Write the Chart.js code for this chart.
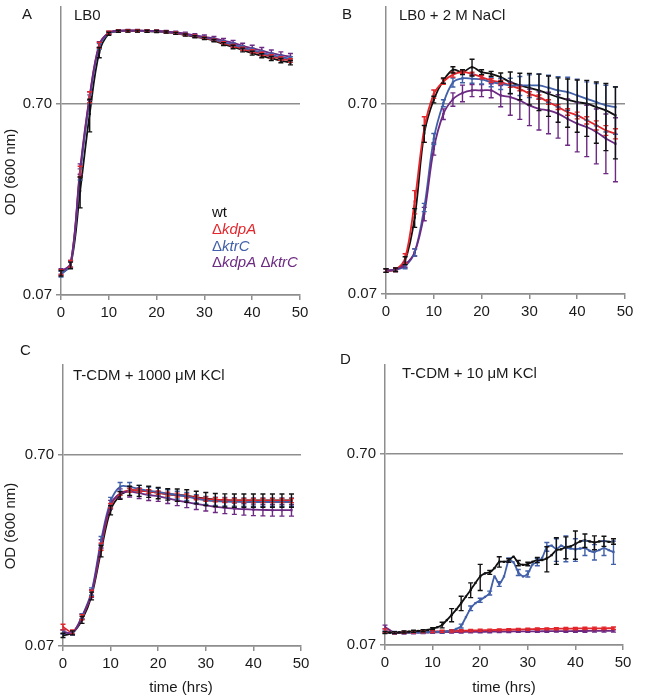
<!DOCTYPE html>
<html>
<head>
<meta charset="utf-8">
<script src="https://cdn.jsdelivr.net/npm/chart.js@4.4.1/dist/chart.umd.min.js"></script>
<style>
  body { margin: 0; background: #fff; font-family: "Liberation Sans", Arial, sans-serif; }
  #page { position: relative; width: 655px; height: 697px; overflow: hidden; }
  canvas { position: absolute; }
  .txt { position: absolute; font-size: 15px; line-height: 16px; color: #1a1a1a; white-space: nowrap; }
  .ytitle { transform: translate(-50%, -50%) rotate(-90deg); }
  .xtitle { transform: translate(-50%, -50%); }
  .leg i { font-style: italic; }
</style>
</head>
<body>
<div id="page">
  <canvas id="chartA" width="327" height="340" style="left:0;top:0"></canvas>
  <canvas id="chartB" width="328" height="340" style="left:327px;top:0"></canvas>
  <canvas id="chartC" width="327" height="357" style="left:0;top:340px"></canvas>
  <canvas id="chartD" width="328" height="357" style="left:327px;top:340px"></canvas>

  <div class="txt" style="left:22px;top:6px">A</div>
  <div class="txt" style="left:342px;top:6px">B</div>
  <div class="txt" style="left:20px;top:342px">C</div>
  <div class="txt" style="left:340px;top:351px">D</div>

  <div class="txt" style="left:74px;top:7px">LB0</div>
  <div class="txt" style="left:399px;top:7px">LB0 + 2 M NaCl</div>
  <div class="txt" style="left:73px;top:367px">T-CDM + 1000 μM KCl</div>
  <div class="txt" style="left:402px;top:365px">T-CDM + 10 μM KCl</div>

  <div class="txt ytitle" style="left:10px;top:172px">OD (600 nm)</div>
  <div class="txt ytitle" style="left:10px;top:526px">OD (600 nm)</div>
  <div class="txt xtitle" style="left:181px;top:687px">time (hrs)</div>
  <div class="txt xtitle" style="left:504px;top:687px">time (hrs)</div>

  <div class="txt leg" style="left:212px;top:204px;color:#111">wt</div>
  <div class="txt leg" style="left:212px;top:221px;color:#e3262b">Δ<i>kdpA</i></div>
  <div class="txt leg" style="left:212px;top:238px;color:#4160a8">Δ<i>ktrC</i></div>
  <div class="txt leg" style="left:212px;top:254px;color:#6c2a83">Δ<i>kdpA</i> Δ<i>ktrC</i></div>
</div>

<script>
// time points (hrs)
const timesEven = [0, 2, 4, 6, 8, 10, 12, 14, 16, 18, 20, 22, 24, 26, 28, 30, 32, 34, 36, 38, 40, 42, 44, 46, 48];
const hoursAll = [0, 1, 2, 3, 4, 5, 6, 7, 8, 9, 10, 11, 12, 13, 14, 15, 16, 17, 18, 19, 20, 21, 22, 23, 24,
  25, 26, 27, 28, 29, 30, 31, 32, 33, 34, 35, 36, 37, 38, 39, 40, 41, 42, 43, 44, 45, 46, 47, 48];

const xTicks = [0, 10, 20, 30, 40, 50];
const yTickValues = [0.07, 0.7];

// A: LB0
const aWt = [0.091, 0.100, 0.245, 0.62, 1.30, 1.63, 1.68, 1.683, 1.683, 1.68, 1.675, 1.664, 1.637, 1.605, 1.572, 1.54, 1.50, 1.44, 1.39, 1.34, 1.29, 1.25, 1.21, 1.18, 1.15];
const aWtErr = [0.003, 0.004, 0.045, 0.12, 0.08, 0.03, 0.02, 0.02, 0.02, 0.02, 0.02, 0.02, 0.02, 0.02, 0.02, 0.02, 0.02, 0.025, 0.03, 0.03, 0.03, 0.03, 0.03, 0.03, 0.03];
const aKdpA = [0.092, 0.102, 0.31, 0.76, 1.42, 1.65, 1.685, 1.69, 1.69, 1.685, 1.68, 1.67, 1.645, 1.615, 1.585, 1.55, 1.51, 1.46, 1.41, 1.36, 1.32, 1.28, 1.24, 1.21, 1.18];
const aKdpAErr = [0.003, 0.004, 0.02, 0.05, 0.05, 0.03, 0.02, 0.02, 0.02, 0.02, 0.02, 0.02, 0.02, 0.02, 0.02, 0.02, 0.02, 0.02, 0.025, 0.025, 0.025, 0.025, 0.025, 0.025, 0.025];
const aKtrC = [0.090, 0.101, 0.30, 0.74, 1.40, 1.64, 1.685, 1.69, 1.69, 1.685, 1.68, 1.67, 1.648, 1.62, 1.59, 1.56, 1.52, 1.47, 1.43, 1.38, 1.34, 1.30, 1.26, 1.23, 1.205];
const aKtrCErr = [0.003, 0.004, 0.02, 0.04, 0.05, 0.03, 0.02, 0.02, 0.02, 0.02, 0.02, 0.02, 0.02, 0.02, 0.02, 0.02, 0.025, 0.025, 0.03, 0.03, 0.03, 0.03, 0.03, 0.03, 0.03];
const aDouble = [0.093, 0.102, 0.32, 0.77, 1.43, 1.65, 1.69, 1.695, 1.695, 1.69, 1.685, 1.675, 1.655, 1.63, 1.60, 1.57, 1.54, 1.50, 1.46, 1.41, 1.37, 1.33, 1.29, 1.26, 1.235];
const aDoubleErr = [0.003, 0.004, 0.02, 0.04, 0.05, 0.03, 0.02, 0.02, 0.02, 0.02, 0.02, 0.02, 0.025, 0.03, 0.03, 0.035, 0.04, 0.04, 0.045, 0.045, 0.05, 0.05, 0.05, 0.05, 0.05];

// B: LB0 + 2 M NaCl
const bWt = [0.093, 0.094, 0.105, 0.177, 0.49, 0.74, 0.93, 1.06, 1.03, 1.094, 1.03, 1.01, 0.97, 0.913, 0.877, 0.853, 0.826, 0.793, 0.761, 0.738, 0.717, 0.703, 0.675, 0.648, 0.610];
const bWtErr = [0.002, 0.002, 0.005, 0.02, 0.05, 0.03, 0.03, 0.04, 0.03, 0.11, 0.03, 0.03, 0.05, 0.12, 0.14, 0.16, 0.18, 0.19, 0.2, 0.21, 0.22, 0.23, 0.24, 0.25, 0.25];
const bKdpA = [0.093, 0.094, 0.108, 0.215, 0.52, 0.79, 0.92, 1.0, 1.03, 1.01, 0.97, 0.932, 0.913, 0.877, 0.842, 0.793, 0.761, 0.717, 0.675, 0.636, 0.610, 0.575, 0.541, 0.509, 0.489];
const bKdpAErr = [0.002, 0.002, 0.006, 0.03, 0.08, 0.04, 0.03, 0.03, 0.02, 0.02, 0.02, 0.02, 0.02, 0.02, 0.02, 0.02, 0.02, 0.02, 0.02, 0.025, 0.025, 0.025, 0.03, 0.03, 0.03];
const bKtrC = [0.093, 0.094, 0.098, 0.116, 0.20, 0.46, 0.707, 0.91, 0.956, 0.951, 0.943, 0.913, 0.895, 0.877, 0.877, 0.877, 0.877, 0.853, 0.826, 0.809, 0.777, 0.746, 0.717, 0.689, 0.675];
const bKtrCErr = [0.002, 0.002, 0.003, 0.005, 0.01, 0.03, 0.03, 0.05, 0.05, 0.05, 0.05, 0.05, 0.06, 0.08, 0.1, 0.12, 0.13, 0.14, 0.15, 0.16, 0.17, 0.17, 0.18, 0.19, 0.19];
const bDouble = [0.093, 0.094, 0.0998, 0.116, 0.185, 0.407, 0.62, 0.742, 0.80, 0.826, 0.826, 0.826, 0.777, 0.761, 0.731, 0.689, 0.661, 0.648, 0.623, 0.585, 0.552, 0.530, 0.499, 0.461, 0.433];
const bDoubleErr = [0.002, 0.002, 0.003, 0.005, 0.015, 0.03, 0.04, 0.06, 0.08, 0.06, 0.06, 0.07, 0.1, 0.15, 0.15, 0.15, 0.15, 0.16, 0.16, 0.16, 0.16, 0.16, 0.16, 0.16, 0.16];

// C: T-CDM + 1000 uM KCl
const cWt = [0.0796, 0.082, 0.096, 0.128, 0.22, 0.36, 0.43, 0.455, 0.455, 0.45, 0.443, 0.436, 0.432, 0.428, 0.42, 0.413, 0.408, 0.406, 0.405, 0.405, 0.405, 0.405, 0.405, 0.405, 0.405];
const cWtErr = [0.002, 0.002, 0.004, 0.006, 0.015, 0.02, 0.02, 0.025, 0.03, 0.03, 0.03, 0.03, 0.032, 0.032, 0.032, 0.032, 0.032, 0.032, 0.032, 0.032, 0.032, 0.032, 0.032, 0.032, 0.032];
const cKdpA = [0.088, 0.083, 0.099, 0.132, 0.232, 0.38, 0.44, 0.458, 0.456, 0.45, 0.444, 0.437, 0.432, 0.427, 0.418, 0.411, 0.408, 0.406, 0.405, 0.405, 0.404, 0.404, 0.404, 0.404, 0.404];
const cKdpAErr = [0.003, 0.002, 0.003, 0.005, 0.01, 0.01, 0.01, 0.01, 0.01, 0.01, 0.01, 0.01, 0.01, 0.01, 0.01, 0.01, 0.01, 0.01, 0.01, 0.01, 0.01, 0.01, 0.01, 0.01, 0.01];
const cKtrC = [0.083, 0.082, 0.1, 0.135, 0.25, 0.40, 0.477, 0.477, 0.465, 0.455, 0.449, 0.44, 0.432, 0.425, 0.413, 0.405, 0.401, 0.399, 0.398, 0.397, 0.397, 0.397, 0.397, 0.397, 0.397];
const cKtrCErr = [0.002, 0.002, 0.003, 0.006, 0.012, 0.02, 0.025, 0.025, 0.02, 0.02, 0.02, 0.02, 0.02, 0.02, 0.02, 0.02, 0.02, 0.02, 0.02, 0.02, 0.02, 0.02, 0.02, 0.02, 0.02];
const cDouble = [0.083, 0.082, 0.1, 0.132, 0.24, 0.385, 0.44, 0.45, 0.442, 0.432, 0.425, 0.415, 0.405, 0.396, 0.388, 0.381, 0.375, 0.37, 0.367, 0.364, 0.362, 0.361, 0.36, 0.36, 0.36];
const cDoubleErr = [0.002, 0.002, 0.003, 0.006, 0.012, 0.02, 0.025, 0.028, 0.028, 0.028, 0.025, 0.025, 0.025, 0.025, 0.025, 0.025, 0.025, 0.025, 0.025, 0.025, 0.025, 0.025, 0.025, 0.025, 0.025];

// D: T-CDM + 10 uM KCl (wt and ktrC hourly, error bars every 2 h)
const dWt = [0.0813, 0.0813, 0.0813, 0.0815, 0.0819, 0.0822, 0.0826, 0.0829, 0.0832, 0.0839,
  0.0853, 0.0867, 0.0891, 0.0946, 0.1006, 0.1075, 0.116, 0.1255, 0.136, 0.148,
  0.160, 0.166, 0.168, 0.177, 0.191, 0.191, 0.194, 0.203, 0.188, 0.184,
  0.186, 0.191, 0.195, 0.195, 0.199, 0.207, 0.220, 0.222, 0.228, 0.230,
  0.237, 0.244, 0.247, 0.244, 0.241, 0.244, 0.245, 0.243, 0.244];
const dWtErr = [0.001, null, 0.001, null, 0.001, null, 0.001, null, 0.001, null,
  0.001, null, 0.003, null, 0.008, null, 0.01, null, 0.012, null,
  0.025, null, 0.004, null, 0.012, null, 0.004, null, 0.006, null,
  0.004, null, 0.006, null, 0.03, null, 0.035, null, 0.03, null,
  0.04, null, 0.02, null, 0.02, null, 0.015, null, 0.008];
const dKtrC = [0.082, 0.0815, 0.0815, 0.0815, 0.0815, 0.0815, 0.0815, 0.0815, 0.0817, 0.0818,
  0.082, 0.082, 0.0822, 0.0825, 0.0832, 0.085, 0.088, 0.098, 0.109, 0.116,
  0.120, 0.125, 0.131, 0.160, 0.146, 0.160, 0.195, 0.190, 0.168, 0.160,
  0.165, 0.185, 0.190, 0.200, 0.229, 0.232, 0.222, 0.232, 0.226, 0.224,
  0.222, 0.224, 0.226, 0.218, 0.215, 0.220, 0.226, 0.220, 0.215];
const dKtrCErr = [0.001, null, 0.001, null, 0.001, null, 0.001, null, 0.001, null,
  0.001, null, 0.001, null, 0.001, null, 0.002, null, 0.003, null,
  0.003, null, 0.003, null, 0.004, null, 0.005, null, 0.006, null,
  0.006, null, 0.008, null, 0.012, null, 0.03, null, 0.035, null,
  0.03, null, 0.02, null, 0.02, null, 0.02, null, 0.03];
const dKdpA = [0.083, 0.0813, 0.0815, 0.0818, 0.082, 0.0823, 0.0826, 0.0829, 0.0832, 0.0834, 0.0836, 0.0838, 0.084, 0.0843, 0.0845, 0.0847, 0.0849, 0.085, 0.0852, 0.0853, 0.0854, 0.0855, 0.0856, 0.0856, 0.0857];
const dKdpAErr = [0.002, 0.001, 0.001, 0.001, 0.001, 0.001, 0.001, 0.001, 0.001, 0.001, 0.001, 0.001, 0.001, 0.001, 0.001, 0.001, 0.001, 0.001, 0.001, 0.0012, 0.0012, 0.0012, 0.0012, 0.0012, 0.0012];
const dDouble = [0.087, 0.0810, 0.0810, 0.0812, 0.0813, 0.0815, 0.0817, 0.0818, 0.0819, 0.082, 0.0821, 0.0822, 0.0823, 0.0824, 0.0825, 0.0826, 0.0826, 0.0827, 0.0828, 0.0828, 0.0829, 0.0829, 0.083, 0.083, 0.083];
const dDoubleErr = [0.002, 0.001, 0.001, 0.001, 0.001, 0.001, 0.001, 0.001, 0.001, 0.001, 0.001, 0.001, 0.001, 0.001, 0.001, 0.001, 0.001, 0.001, 0.001, 0.0012, 0.0012, 0.0012, 0.0012, 0.0012, 0.0012];

const axisColor = "#8e8e8e";
const textColor = "#1a1a1a";
const strainColors = { wt: "#111111", kdpA: "#e3262b", ktrC: "#4160a8", double: "#6c2a83" };
const tickFont = { family: "'Liberation Sans', Arial, sans-serif", size: 15 };

// draws vertical error bars with caps using the chart's own scales
const errorBarPlugin = {
  id: "errorBars",
  afterDatasetsDraw(chart) {
    const ctx = chart.ctx;
    const yScale = chart.scales.y;
    ctx.save();
    for (let i = chart.data.datasets.length - 1; i >= 0; i--) {
      const ds = chart.data.datasets[i];
      const meta = chart.getDatasetMeta(i);
      ctx.strokeStyle = ds.borderColor;
      ctx.lineWidth = 1.4;
      meta.data.forEach((pt, j) => {
        const e = ds.err[j];
        if (e == null) return;
        const v = ds.data[j].y;
        const yTop = yScale.getPixelForValue(v + e);
        const yBot = yScale.getPixelForValue(Math.max(v - e, 0.01));
        ctx.beginPath();
        ctx.moveTo(pt.x, yTop);
        ctx.lineTo(pt.x, yBot);
        ctx.moveTo(pt.x - 2.5, yTop);
        ctx.lineTo(pt.x + 2.5, yTop);
        ctx.moveTo(pt.x - 2.5, yBot);
        ctx.lineTo(pt.x + 2.5, yBot);
        ctx.stroke();
      });
    }
    ctx.restore();
  },
};

function series(times, values, errors, color, order) {
  return {
    data: times.map((t, i) => ({ x: t, y: values[i] })),
    err: errors,
    borderColor: color,
    backgroundColor: color,
    order: order,
  };
}

function makeOptions(p) {
  return {
    responsive: false,
    animation: false,
    layout: { padding: { top: p.padTop, right: p.padRight, left: 0, bottom: 0 } },
    plugins: { legend: { display: false }, tooltip: { enabled: false } },
    elements: {
      line: { borderWidth: 1.8, tension: p.tension },
      point: { radius: 1.6, pointStyle: "rect", borderWidth: 0 },
    },
    scales: {
      x: {
        type: "linear",
        min: 0,
        max: 50,
        afterBuildTicks: (s) => { s.ticks = xTicks.map((v) => ({ value: v })); },
        ticks: { color: textColor, font: tickFont, padding: 4, maxRotation: 0 },
        grid: { drawOnChartArea: false, color: axisColor, tickLength: 5, lineWidth: 1.5 },
        border: { color: axisColor, width: 1.5 },
        afterFit: (s) => { s.height = p.xHeight; s.paddingLeft = 0; s.paddingRight = 0; },
      },
      y: {
        type: "logarithmic",
        min: 0.07,
        max: p.yMax,
        afterBuildTicks: (s) => { s.ticks = yTickValues.map((v) => ({ value: v })); },
        ticks: { color: textColor, font: tickFont, padding: 4, callback: (v) => Number(v).toFixed(2) },
        grid: { color: axisColor, tickLength: 5, lineWidth: 1.5 },
        border: { color: axisColor, width: 1.5 },
        afterFit: (s) => { s.width = p.yWidth; s.paddingTop = 0; s.paddingBottom = 0; },
      },
    },
  };
}

function renderPanel(canvasId, datasets, p) {
  return new Chart(document.getElementById(canvasId), {
    type: "line",
    data: { datasets: datasets },
    options: makeOptions(p),
    plugins: [errorBarPlugin],
  });
}

renderPanel("chartA", [
  series(timesEven, aWt, aWtErr, strainColors.wt, 4),
  series(timesEven, aKdpA, aKdpAErr, strainColors.kdpA, 3),
  series(timesEven, aKtrC, aKtrCErr, strainColors.ktrC, 2),
  series(timesEven, aDouble, aDoubleErr, strainColors.double, 1),
], { padTop: 7, padRight: 27, yWidth: 61, xHeight: 45, yMax: 2.25, tension: 0.35 });

renderPanel("chartB", [
  series(timesEven, bWt, bWtErr, strainColors.wt, 4),
  series(timesEven, bKdpA, bKdpAErr, strainColors.kdpA, 3),
  series(timesEven, bKtrC, bKtrCErr, strainColors.ktrC, 2),
  series(timesEven, bDouble, bDoubleErr, strainColors.double, 1),
], { padTop: 7, padRight: 30, yWidth: 59, xHeight: 46, yMax: 2.27, tension: 0.35 });

renderPanel("chartC", [
  series(timesEven, cWt, cWtErr, strainColors.wt, 4),
  series(timesEven, cKdpA, cKdpAErr, strainColors.kdpA, 3),
  series(timesEven, cKtrC, cKtrCErr, strainColors.ktrC, 2),
  series(timesEven, cDouble, cDoubleErr, strainColors.double, 1),
], { padTop: 25, padRight: 26, yWidth: 63, xHeight: 51, yMax: 2.07, tension: 0.35 });

renderPanel("chartD", [
  series(hoursAll, dWt, dWtErr, strainColors.wt, 1),
  series(timesEven, dKdpA, dKdpAErr, strainColors.kdpA, 3),
  series(hoursAll, dKtrC, dKtrCErr, strainColors.ktrC, 2),
  series(timesEven, dDouble, dDoubleErr, strainColors.double, 4),
], { padTop: 25, padRight: 32, yWidth: 58, xHeight: 52, yMax: 2.05, tension: 0.15 });
</script>
</body>
</html>
